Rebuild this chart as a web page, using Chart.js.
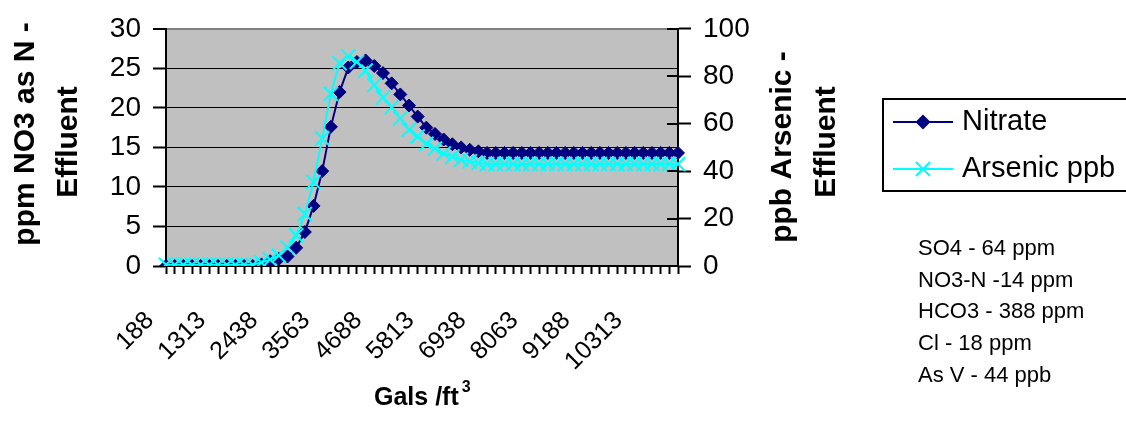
<!DOCTYPE html>
<html>
<head>
<meta charset="utf-8">
<script src="https://cdn.jsdelivr.net/npm/chart.js@4/dist/chart.umd.min.js"></script>
<style>
  html, body { margin: 0; padding: 0; background: #fff; }
  #wrap { width: 1126px; height: 436px; position: relative; }
</style>
</head>
<body>
<div id="wrap"><canvas id="chart"></canvas></div>
<script>
const gallonsPerFt3 = [
  188, 375, 563, 750, 938, 1125, 1313, 1500, 1688, 1875,
  2063, 2250, 2438, 2625, 2813, 3000, 3188, 3375, 3563, 3750,
  3938, 4125, 4313, 4500, 4688, 4875, 5063, 5250, 5438, 5625,
  5813, 6000, 6188, 6375, 6563, 6750, 6938, 7125, 7313, 7500,
  7688, 7875, 8063, 8250, 8438, 8625, 8813, 9000, 9188, 9375,
  9563, 9750, 9938, 10125, 10313, 10500, 10688, 10875, 11063, 11250,
];

// ppm NO3 as N (left axis)
const nitrate = [
  0, 0, 0, 0, 0, 0, 0, 0, 0, 0,
  0, 0.2, 0.6, 0.9, 1.2, 2.3, 4.3, 7.6, 12.0, 17.6,
  22.0, 25.1, 25.8, 26.0, 25.3, 24.4, 23.1, 21.7, 20.3, 18.9,
  17.5, 16.7, 16.0, 15.4, 15.0, 14.7, 14.5, 14.3, 14.3, 14.3,
  14.3, 14.3, 14.3, 14.3, 14.3, 14.3, 14.3, 14.3, 14.3, 14.3,
  14.3, 14.3, 14.3, 14.3, 14.3, 14.3, 14.3, 14.3, 14.3, 14.3,
];

// ppb arsenic (right axis)
const arsenic = [
  0.5, 0.5, 0.5, 0.5, 0.5, 0.5, 0.5, 0.5, 0.5, 0.5,
  0.5, 1.5, 2.7, 4.4, 7.8, 12.9, 21.9, 35.4, 53.8, 72.6,
  85.5, 88.4, 86.0, 82.4, 76.3, 71.0, 66.9, 62.2, 57.5, 54.6,
  51.5, 49.5, 47.4, 46.1, 44.8, 44.1, 43.4, 43.0, 43.0, 43.0,
  43.0, 43.0, 43.0, 43.0, 43.0, 43.0, 43.0, 43.0, 43.0, 43.0,
  43.0, 43.0, 43.0, 43.0, 43.0, 43.0, 43.0, 43.0, 43.0, 43.0,
];

const seriesNames = ["Nitrate", "Arsenic ppb"];
const leftTitle = ["ppm NO3 as N -", "Effluent"];
const rightTitle = ["ppb Arsenic -", "Effluent"];
const notes = ["SO4 - 64 ppm", "NO3-N -14 ppm", "HCO3 - 388 ppm", "Cl - 18 ppm", "As V - 44 ppb"];

const FONT = "'Liberation Sans', Arial, sans-serif";
const NAVY = "#000080";
const CYAN = "#00FFFF";

/*************************************************************
 * Extras: plot background, axis titles, legend, notes
 *************************************************************/
const extrasPlugin = {
  id: "extras",
  beforeDraw(chart) {
    const { ctx, chartArea } = chart;
    ctx.save();
    ctx.fillStyle = "#fff";
    ctx.fillRect(0, 0, chart.width, chart.height);
    ctx.fillStyle = "#C0C0C0";
    ctx.fillRect(chartArea.left, chartArea.top, chartArea.right - chartArea.left, chartArea.bottom - chartArea.top);
    ctx.restore();
  },
  afterDraw(chart) {
    const { ctx, chartArea } = chart;
    ctx.save();
    ctx.fillStyle = "#000";

    const vertical = (text, x, cy) => {
      ctx.save();
      ctx.translate(x, cy);
      ctx.rotate(-Math.PI / 2);
      ctx.textAlign = "center";
      ctx.textBaseline = "alphabetic";
      ctx.fillText(text, 0, 0);
      ctx.restore();
    };

    ctx.font = "bold 30px " + FONT;
    vertical(leftTitle[0], 34, 134);
    vertical(leftTitle[1], 77, 142);
    vertical(rightTitle[0], 791, 147);
    vertical(rightTitle[1], 835, 142);

    // x title with superscript
    ctx.textAlign = "left";
    ctx.textBaseline = "alphabetic";
    ctx.font = "bold 25px " + FONT;
    ctx.fillText("Gals /ft", 374, 405);
    const w = ctx.measureText("Gals /ft").width;
    ctx.font = "bold 16px " + FONT;
    ctx.fillText("3", 374 + w + 3, 392);

    // right axis tick marks also reach into the plot
    const y1 = chart.scales.y1;
    ctx.strokeStyle = "#000";
    ctx.lineWidth = 2;
    y1.ticks.forEach((t) => {
      const py = Math.round(y1.getPixelForValue(t.value));
      ctx.beginPath();
      ctx.moveTo(chartArea.right - 11, py);
      ctx.lineTo(chartArea.right, py);
      ctx.stroke();
    });

    // legend
    const lx = 883, ly = 99, lw = 260, lh = 92;
    ctx.lineWidth = 2;
    ctx.strokeRect(lx, ly, lw, lh);
    const rows = [122, 169];
    ctx.font = "29px " + FONT;
    ctx.textBaseline = "middle";
    chart.data.datasets.forEach((ds, i) => {
      const y = rows[i];
      ctx.strokeStyle = ds.borderColor;
      ctx.lineWidth = 2;
      ctx.beginPath();
      ctx.moveTo(893, y);
      ctx.lineTo(953, y);
      ctx.stroke();
      const cx = 923;
      if (ds.pointStyle === "rectRot") {
        const r = ds.pointRadius + 1;
        ctx.fillStyle = ds.pointBackgroundColor;
        ctx.beginPath();
        ctx.moveTo(cx - r, y);
        ctx.lineTo(cx, y - r);
        ctx.lineTo(cx + r, y);
        ctx.lineTo(cx, y + r);
        ctx.closePath();
        ctx.fill();
      } else {
        const r = ds.pointRadius * Math.SQRT1_2;
        ctx.beginPath();
        ctx.moveTo(cx - r, y - r);
        ctx.lineTo(cx + r, y + r);
        ctx.moveTo(cx - r, y + r);
        ctx.lineTo(cx + r, y - r);
        ctx.stroke();
      }
      ctx.fillStyle = "#000";
      ctx.fillText(ds.label, 962, y);
    });

    // water quality notes
    ctx.font = "22px " + FONT;
    ctx.textBaseline = "alphabetic";
    notes.forEach((line, i) => {
      ctx.fillText(line, 918, 255 + i * 31.7);
    });

    ctx.restore();
  },
};

/*************************************************************
 * Chart
 *************************************************************/
const renderChart = () => {
  const ctx = document.getElementById("chart").getContext("2d");
  Chart.defaults.font.family = FONT;
  Chart.defaults.color = "#000";

  new Chart(ctx, {
    type: "line",
    data: {
      labels: gallonsPerFt3,
      datasets: [
        {
          label: seriesNames[0],
          data: nitrate,
          yAxisID: "y",
          borderColor: NAVY,
          backgroundColor: NAVY,
          borderWidth: 2,
          pointStyle: "rectRot",
          pointRadius: 6.5,
          pointBackgroundColor: NAVY,
          pointBorderColor: NAVY,
          pointBorderWidth: 1,
          order: 1,
        },
        {
          label: seriesNames[1],
          data: arsenic,
          yAxisID: "y1",
          borderColor: CYAN,
          backgroundColor: CYAN,
          borderWidth: 2,
          pointStyle: "crossRot",
          pointRadius: 10,
          pointBorderColor: CYAN,
          pointBorderWidth: 2,
          order: 0,
        },
      ],
    },
    options: {
      animation: false,
      responsive: true,
      maintainAspectRatio: false,
      devicePixelRatio: 1,
      layout: { padding: { top: 18, left: 0, right: 0, bottom: 0 } },
      plugins: {
        legend: { display: false },
        tooltip: { enabled: false },
      },
      scales: {
        x: {
          type: "category",
          offset: false,
          grid: {
            drawOnChartArea: false,
            tickLength: 8,
            tickColor: "#000",
            tickWidth: 2,
          },
          border: { color: "#000", width: 2 },
          ticks: {
            autoSkip: false,
            maxRotation: 45,
            minRotation: 45,
            padding: 32,
            labelOffset: -16,
            font: { size: 25 },
            callback: function (value, index) {
              return index % 6 === 0 ? this.getLabelForValue(value) : "";
            },
          },
          afterFit: (scale) => {
            scale.height = 170;
          },
        },
        y: {
          position: "left",
          min: 0,
          max: 30,
          ticks: { stepSize: 5, padding: 12, font: { size: 28 } },
          grid: {
            color: (c) => (c.tick && c.tick.value === 30 ? "#808080" : "#000"),
            lineWidth: (c) => (c.tick && c.tick.value === 30 ? 2 : 1),
            tickLength: 13,
            tickColor: "#000",
            tickWidth: 2,
          },
          border: { color: "#000", width: 2 },
          afterFit: (scale) => {
            scale.width = 166;
          },
        },
        y1: {
          position: "right",
          min: 0,
          max: 100,
          ticks: { stepSize: 20, padding: 12, font: { size: 28 } },
          grid: {
            drawOnChartArea: false,
            tickLength: 13,
            tickColor: "#000",
            tickWidth: 2,
          },
          border: { color: "#000", width: 2 },
          afterFit: (scale) => {
            scale.width = 448;
          },
        },
      },
    },
    plugins: [extrasPlugin],
  });
};

window.addEventListener("load", () => {
  renderChart();
});
</script>
</body>
</html>
